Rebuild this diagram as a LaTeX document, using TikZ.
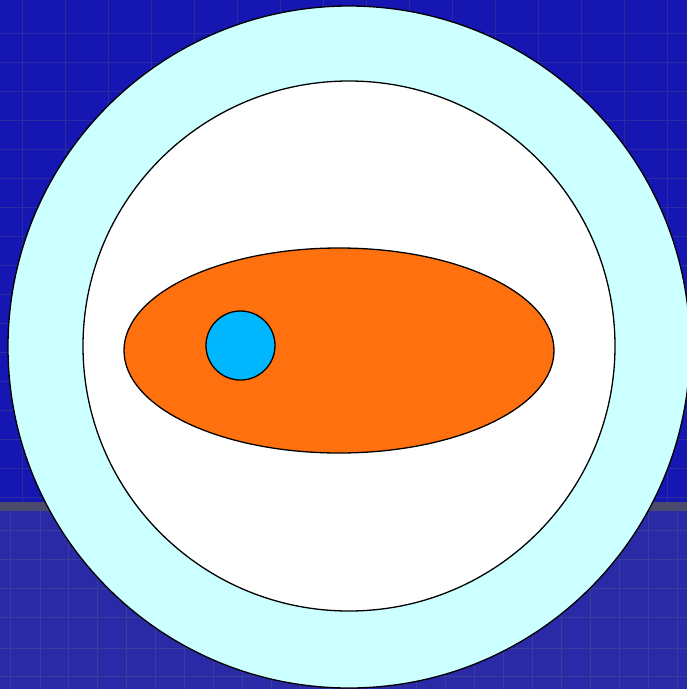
\documentclass[tikz,border=0pt]{standalone}
\usepackage{tikz}
\usetikzlibrary{shapes.geometric}
\definecolor{bgtop}{HTML}{1616B2}
\definecolor{bgbot}{HTML}{2A2AA6}
\definecolor{gridtop}{HTML}{2C2CA2}
\definecolor{gridbot}{HTML}{3C3C9C}
\definecolor{bandc}{HTML}{4A4A6C}
\definecolor{paleaqua}{HTML}{CCFFFF}
\definecolor{lumporange}{HTML}{FF710E}
\definecolor{dotblue}{HTML}{00B6FF}

\begin{document}
\begin{tikzpicture}[x=1pt,y=-1pt,
  gridline/.style={line width=0.7pt},
  shell/.style={draw=black,line width=1.3pt}]
\useasboundingbox (0,0) rectangle (687,689);
% background
\fill[bgtop] (0,0) rectangle (687,502);
\fill[bgbot] (0,511) rectangle (687,689);
\fill[bandc] (0,502) rectangle (687,511);
\foreach \y in {33,62,91,120,149,178,207,236,265,294,323,352,381,410,439,468,497}
  \draw[gridline,gridtop] (0,\y) -- (687,\y);
\foreach \x in {22,65,108,151,194,237,280,323,366,409,452,495,538,581,624,667}
  \draw[gridline,gridtop] (\x,0) -- (\x,502);
\foreach \y in {530,559,588,617,648,676}
  \draw[gridline,gridbot] (0,\y) -- (687,\y);
\foreach \x in {10,40,68,97,126,155,184,213,242,271,300,329,358,387,416,445,474,503,532,561,590,619,648,677}
  \draw[gridline,gridbot] (\x,511) -- (\x,689);
% shells
\draw[shell,fill=paleaqua] (349,347) circle (341);
\draw[shell,fill=white] (349,346) ellipse (266 and 265);
\draw[shell,fill=lumporange] (339,350.5) ellipse (215 and 102.5);
\draw[shell,fill=dotblue] (240.5,345.5) circle (34.5);
\end{tikzpicture}
\end{document}
